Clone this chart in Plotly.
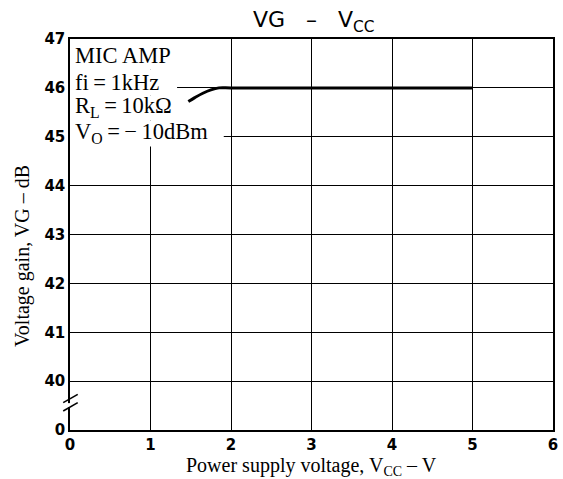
import plotly.graph_objects as go

# Data
vcc = [1.47, 1.55, 1.65, 1.75, 1.85, 2.0, 3.0, 4.0, 5.0]
gain = [45.72, 45.80, 45.89, 45.96, 46.0, 46.0, 46.0, 46.0, 46.0]

x_ticks = [0, 1, 2, 3, 4, 5, 6]
y_tickvals = [39, 40, 41, 42, 43, 44, 45, 46, 47]
y_ticktext = ["0", "40", "41", "42", "43", "44", "45", "46", "47"]

cond_lines = ["MIC AMP", "fi\u2009=\u20091kHz", "R<sub>L</sub>\u2009=\u200910kΩ", "V<sub>O</sub>\u2009=\u2009−\u200910dBm"]
cond_y = [46.67, 46.12, 45.6, 45.07]

fig = go.Figure()

# white patches behind the condition text (above grid, below the curve)
patches = [(1.34, 46.37, 47.0), (1.33, 45.84, 46.37), (1.39, 45.33, 45.84), (1.91, 44.80, 45.33)]
for xr, y0, y1 in patches:
    fig.add_shape(type="rect", xref="x", yref="y", x0=0.0, x1=xr, y0=y0, y1=y1,
                  fillcolor="white", line=dict(width=0), layer="between")

for t, yy in zip(cond_lines, cond_y):
    fig.add_annotation(x=0.04, y=yy, xref="x", yref="y", text=t, showarrow=False,
                       xanchor="left", yanchor="middle",
                       font=dict(family="Liberation Serif", size=22.5, color="black"))

fig.add_trace(go.Scatter(x=vcc, y=gain, mode="lines",
                         line=dict(color="black", width=3, shape="spline"),
                         hoverinfo="skip", showlegend=False))

# axis break marks
fig.add_shape(type="rect", xref="paper", yref="y", x0=-0.006, x1=0.006, y0=39.47, y1=39.55,
              fillcolor="white", line=dict(width=0), layer="above")
fig.add_shape(type="line", xref="paper", yref="y", x0=-0.014, x1=0.016, y0=39.56, y1=39.73,
              line=dict(color="black", width=1.6), layer="above")
fig.add_shape(type="line", xref="paper", yref="y", x0=-0.014, x1=0.016, y0=39.39, y1=39.56,
              line=dict(color="black", width=1.6), layer="above")

fig.add_annotation(x=0.506, y=1.0, xref="paper", yref="paper", yanchor="bottom",
                   text="VG   –   V<sub>CC</sub>", showarrow=False, yshift=1,
                   font=dict(family="DejaVu Sans", size=22, color="black"))

fig.add_annotation(x=0.5, y=0, xref="paper", yref="paper", yanchor="top",
                   text="Power supply voltage, V<sub>CC</sub> – V", showarrow=False, yshift=-22,
                   font=dict(family="Liberation Serif", size=20, color="black"))
fig.add_annotation(x=0, y=0.445, xref="paper", yref="paper", xanchor="center",
                   text="Voltage gain, VG – dB", showarrow=False, xshift=-48, textangle=-90,
                   font=dict(family="Liberation Serif", size=20, color="black"))

tickfont = dict(family="DejaVu Sans", size=15, color="black", weight="bold")
fig.update_xaxes(range=[0, 6], tickvals=x_ticks, tickfont=tickfont,
                 showgrid=True, gridcolor="black", gridwidth=1.3,
                 showline=True, linecolor="black", linewidth=1.5, mirror=True,
                 zeroline=False, ticks="", fixedrange=True, automargin=False)
fig.update_yaxes(range=[39, 47], tickvals=y_tickvals, ticktext=y_ticktext, tickfont=tickfont,
                 showgrid=True, gridcolor="black", gridwidth=1.3,
                 showline=True, linecolor="black", linewidth=1.5, mirror=True,
                 zeroline=False, ticks="", fixedrange=True, automargin=False)

fig.update_layout(width=563, height=479, margin=dict(l=70, r=10, t=39, b=49),
                  plot_bgcolor="white", paper_bgcolor="white", showlegend=False)

fig.write_html("out.html", post_script="document.body.style.margin='0';",
               config={"displayModeBar": False})
